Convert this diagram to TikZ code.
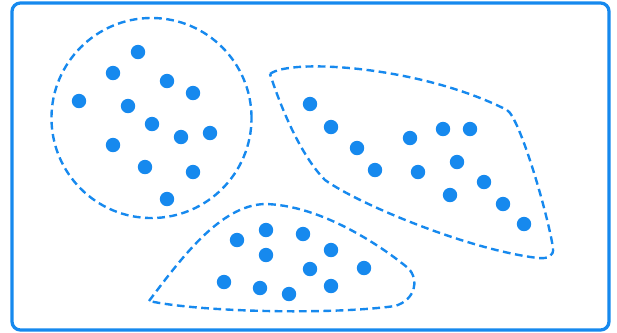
\documentclass[tikz,border=0pt]{standalone}
\usepackage{xcolor}
\definecolor{clusterblue}{HTML}{1689EE}
\newcommand{\outerframe}{(12,3) rectangle (609,330)}

\begin{document}
\begin{tikzpicture}[x=0.025cm, y=-0.025cm,
  point/.style={circle, fill=clusterblue, inner sep=0pt, minimum size=0.36cm},
  cluster/.style={draw=clusterblue, line width=1.7pt, dash pattern=on 5.5pt off 3.2pt}]

  \useasboundingbox (0,0) rectangle (617,332);
  \draw[clusterblue, line width=2.3pt, rounded corners=6pt] \outerframe;

  % round cluster, upper left
  \draw[cluster] (151.5,118) circle (2.5cm);
  \foreach \x/\y [count=\i] in {138/52, 113/73, 167/81, 193/93, 79/101, 128/106, 152/124,
      181/137, 210/133, 113/145, 145/167, 193/172, 167/199}
    \node[point] (a\i) at (\x,\y) {};

  % long cluster, right
  \draw[cluster] (270,74) .. controls (290,58) and (420,66) .. (507,110)
    .. controls (520,118) and (548,215) .. (553,248)
    .. controls (554,256) and (548,259) .. (538,258)
    .. controls (470,250) and (360,205) .. (325,180)
    .. controls (305,160) and (285,120) .. (270,74) -- cycle;
  \foreach \x/\y [count=\i] in {310/104, 331/127, 357/148, 375/170, 410/138, 418/172, 443/129,
      470/129, 457/162, 484/182, 450/195, 503/204, 524/224}
    \node[point] (b\i) at (\x,\y) {};

  % flat cluster, bottom
  \draw[cluster] (149,301) .. controls (180,260) and (220,205) .. (265,204)
    .. controls (320,205) and (380,245) .. (408,268)
    .. controls (420,280) and (415,300) .. (395,306)
    .. controls (330,315) and (200,312) .. (149,301) -- cycle;
  \foreach \x/\y [count=\i] in {237/240, 266/230, 303/234, 266/255, 331/250, 310/269, 364/268,
      224/282, 260/288, 289/294, 331/286}
    \node[point] (c\i) at (\x,\y) {};

\end{tikzpicture}
\end{document}
